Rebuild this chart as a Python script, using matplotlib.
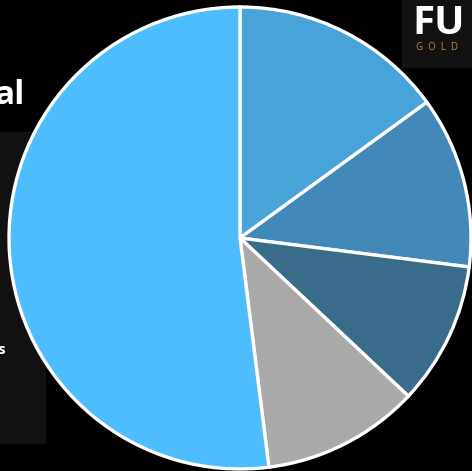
import matplotlib
matplotlib.use("Agg")
import matplotlib.pyplot as plt
from matplotlib.patches import Rectangle

values = [15, 12, 10, 11, 52]
colors = ["#47a3d8", "#4288b8", "#386c8a", "#a9a9a9", "#4dbdfd"]

W, H = 472, 471
fig = plt.figure(figsize=(W / 100, H / 100), dpi=100, facecolor="black")

# background decorations
bg = fig.add_axes([0, 0, 1, 1])
bg.set_xlim(0, W)
bg.set_ylim(H, 0)
bg.axis("off")
bg.set_facecolor("black")
bg.add_patch(Rectangle((0, 132), 45, 311, color="#111111"))
bg.add_patch(Rectangle((402, 0), 70, 67, color="#111111"))
bg.text(-5, 96, "al", color="white", fontsize=24, fontweight="bold",
        ha="left", va="center", family="Open Sans")
bg.text(-3, 350, "s", color="white", fontsize=11, fontweight="bold",
        ha="left", va="center", family="Open Sans")
bg.text(412, 24, "FU", color="white", fontsize=29, fontweight="bold",
        ha="left", va="center", family="Open Sans")
bg.text(416, 48, "G  O  L  D", color="#c8823a", fontsize=7,
        ha="left", va="center", family="Open Sans")

cx, cy, r = 240, 238, 231
ax = fig.add_axes([(cx - r) / W, (H - cy - r) / H, 2 * r / W, 2 * r / H])
wedges, _ = ax.pie(values, colors=colors, startangle=90, counterclock=False,
                   radius=1, wedgeprops=dict(edgecolor="white", linewidth=2.4))
ax.set_xlim(-1, 1)
ax.set_ylim(-1, 1)
ax.axis("off")
for w in wedges:
    w.set_clip_on(False)

fig.savefig("out.png", dpi=100, facecolor="black")
